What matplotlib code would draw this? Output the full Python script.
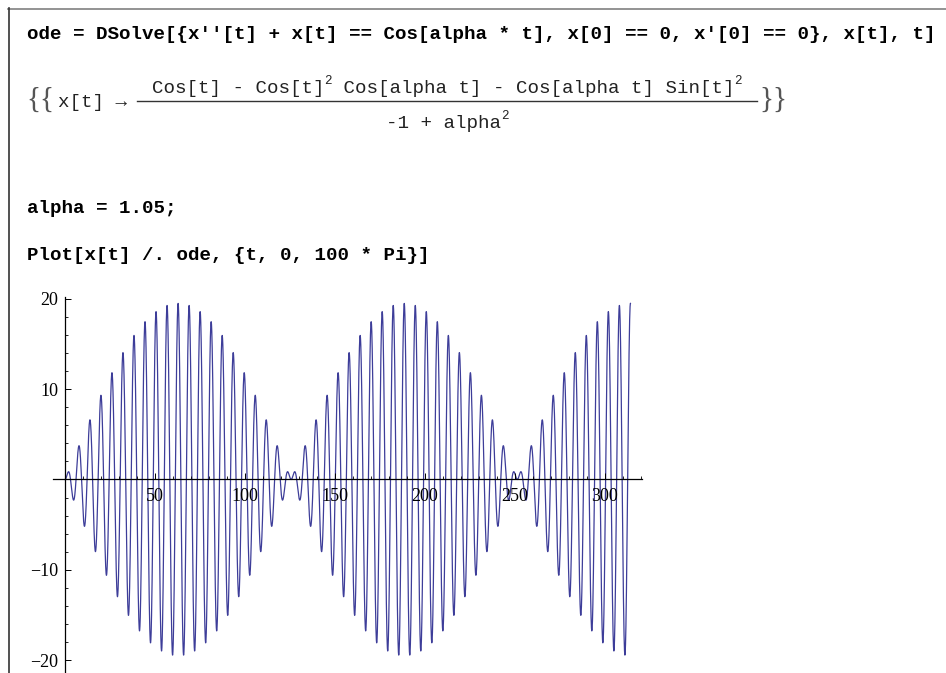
import numpy as np
import matplotlib.pyplot as plt
from matplotlib.lines import Line2D

W, H = 946, 673

# parameters of the driven oscillator and plot range
ALPHA = 1.05
T_START = 0.0
T_END = 100 * np.pi
N_SAMPLES = 20000

X_MAJOR = [50, 100, 150, 200, 250, 300]
X_MINOR = [v for v in range(10, 330, 10) if v % 50 != 0]
Y_MAJOR = [-20, -10, 10, 20]
Y_MINOR = [v for v in range(-20, 21, 2) if v % 10 != 0]

INPUT_1 = "ode = DSolve[{x''[t] + x[t] == Cos[alpha * t], x[0] == 0, x'[0] == 0}, x[t], t]"
INPUT_2 = "alpha = 1.05;"
INPUT_3 = "Plot[x[t] /. ode, {t, 0, 100 * Pi}]"
NUMERATOR = [("Cos[t] - Cos[t]", False), ("2", True), (" Cos[alpha t] - Cos[alpha t] Sin[t]", False), ("2", True)]
DENOMINATOR = [("-1 + alpha", False), ("2", True)]

MONO = "Liberation Mono"
SERIF = "Liberation Serif"
CURVE = (0.24, 0.24, 0.6)


def x_of_t(t, a):
    return (np.cos(t) - np.cos(t) ** 2 * np.cos(a * t)
            - np.cos(a * t) * np.sin(t) ** 2) / (-1 + a ** 2)


fig = plt.figure(figsize=(W / 100, H / 100), dpi=100)
renderer = fig.canvas.get_renderer()


def put(x, y, s, **kw):
    return fig.text(x / W, 1 - y / H, s, **kw)


def run_width(pieces, size, sup_size):
    total = 0.0
    for s, sup in pieces:
        t = put(0, 0, s, family=MONO, fontsize=sup_size if sup else size)
        total += t.get_window_extent(renderer).width
        t.remove()
    return total


def draw_run(x0, base, pieces, size=13.8, sup_size=9):
    x = x0
    for s, sup in pieces:
        y = base - 9 if sup else base
        t = put(x, y, s, family=MONO, fontsize=sup_size if sup else size,
                va="baseline", ha="left", color="#222222")
        x += t.get_window_extent(renderer).width
    return x


# notebook cell frame
fig.add_artist(Line2D([8 / W, 1], [1 - 8.5 / H] * 2, color="#808080", lw=1.2))
fig.add_artist(Line2D([8.5 / W] * 2, [1 - 8 / H, 0], color="#333333", lw=1.2))

# input cells
bold = dict(family=MONO, fontsize=13.8, fontweight="bold", va="baseline", ha="left", color="black")
put(27, 39, INPUT_1, **bold)
put(27, 213, INPUT_2, **bold)
put(27, 260, INPUT_3, **bold)

# output cell: {{x[t] -> fraction}}
brace = dict(family=SERIF, fontsize=21, va="center", ha="left", color="#555555")
put(26, 100, "{{", **brace)
put(58, 107, "x[t] \u2192", family=MONO, fontsize=13.8, va="baseline", ha="left", color="#222222")

bar_l, bar_r = 137, 757
mid = (bar_l + bar_r) / 2
fig.add_artist(Line2D([bar_l / W, bar_r / W], [1 - 101 / H] * 2, color="#333333", lw=1.0))
nw = run_width(NUMERATOR, 13.8, 9)
draw_run(mid - nw / 2, 93, NUMERATOR)
dw = run_width(DENOMINATOR, 13.8, 9)
draw_run(mid - dw / 2, 128, DENOMINATOR)
put(759, 100, "}}", **brace)

# plot of the solution
ax = fig.add_axes([53 / W, 0, (642 - 53) / W, (673 - 297) / H])
t = np.linspace(T_START, T_END, N_SAMPLES)
ax.plot(t, x_of_t(t, ALPHA), color=CURVE, lw=0.9, zorder=1)

ax.set_xlim(-6.67, 320.6)
ax.set_ylim(-21.44, 20.22)
for side in ("top", "right"):
    ax.spines[side].set_visible(False)
ax.spines["left"].set_position(("data", 0))
ax.spines["bottom"].set_position(("data", 0))
for side in ("left", "bottom"):
    ax.spines[side].set_linewidth(0.9)
ax.patch.set_alpha(0)

ax.set_xticks(X_MAJOR)
ax.set_xticks(X_MINOR, minor=True)
ax.set_yticks(Y_MAJOR)
ax.set_yticks(Y_MINOR, minor=True)
ax.set_xticklabels([str(v) for v in X_MAJOR])
ax.set_yticklabels([str(v).replace("-", "\u2212") for v in Y_MAJOR])
ax.tick_params(which="major", direction="in", length=4.3, width=0.7, labelsize=13)
ax.tick_params(which="minor", direction="in", length=2.5, width=0.6)
ax.tick_params(axis="y", which="major", pad=5)
ax.tick_params(axis="x", which="major", pad=6)
for lab in ax.get_xticklabels() + ax.get_yticklabels():
    lab.set_family(SERIF)

fig.savefig("out.png", dpi=100)
